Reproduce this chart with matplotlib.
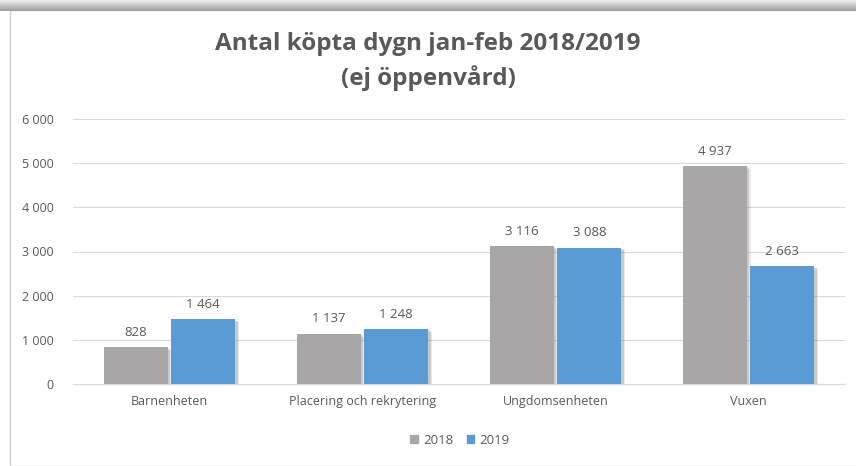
import matplotlib.pyplot as plt
import matplotlib.patheffects as pe
import numpy as np
from matplotlib.patches import Rectangle, Patch

categories = ['Barnenheten', 'Placering och rekrytering', 'Ungdomsenheten', 'Vuxen']
years = ['2018', '2019']
v2018 = [828, 1137, 3116, 4937]
v2019 = [1464, 1248, 3088, 2663]
yticks = [0, 1000, 2000, 3000, 4000, 5000, 6000]

gray = '#a8a6a6'
blue = '#5b9bd5'
txt = '#595959'

plt.rcParams['font.family'] = ['Open Sans', 'DejaVu Sans']

fig = plt.figure(figsize=(8.56, 4.66), dpi=100)
W, H = 856, 466

# chart frame and top shadow strip
fig.patches.append(Rectangle((10 / W, 0), 1, 1 - 10 / H, transform=fig.transFigure,
                             facecolor='none', edgecolor='#d0d0d0', lw=1, zorder=-1))
band = fig.add_axes([0, 1 - 11 / H, 1, 11 / H])
grad = np.linspace(0.93, 0.62, 50).reshape(-1, 1)
band.imshow(grad, aspect='auto', cmap='gray', vmin=0, vmax=1, extent=[0, 1, 0, 1])
band.axis('off')

ax = fig.add_axes([73 / W, (H - 384) / H, (845 - 73) / W, (384 - 119) / H])
ax.patch.set_alpha(0)
x = np.arange(len(categories))
w = 0.33
# soft-ish shadow: a few offset layers
shadow = [pe.SimplePatchShadow(offset=(3, -2), shadow_rgbFace='#707070', alpha=0.15),
          pe.SimplePatchShadow(offset=(2, -1), shadow_rgbFace='#707070', alpha=0.25),
          pe.Normal()]
b1 = ax.bar(x - w / 2 - 0.01, v2018, w, color=gray, zorder=3, path_effects=shadow)
b2 = ax.bar(x + w / 2 + 0.01, v2019, w, color=blue, zorder=3, path_effects=shadow)

fmt = lambda v: f'{v:,}'.replace(',', ' ')
for bars, vals in ((b1, v2018), (b2, v2019)):
    for b, v in zip(bars, vals):
        ax.annotate(fmt(v), (b.get_x() + b.get_width() / 2, v), xytext=(0, 6),
                    textcoords='offset points', ha='center', va='bottom',
                    fontsize=9.5, color=txt)

ax.set_xlim(-0.5, len(categories) - 0.5)
ax.set_ylim(0, 6000)
ax.set_yticks(yticks)
ax.set_yticklabels([fmt(t) for t in yticks])
ax.set_xticks(x)
ax.set_xticklabels(categories)
ax.tick_params(axis='both', length=0, labelsize=9, colors=txt)
ax.tick_params(axis='y', pad=14)
ax.tick_params(axis='x', pad=8)
ax.grid(axis='y', color='#d9d9d9', lw=0.8, zorder=0)
for s in ('top', 'right', 'left'):
    ax.spines[s].set_visible(False)
ax.spines['bottom'].set_color('#d9d9d9')

fig.text(0.5, 1 - 44 / H, 'Antal köpta dygn jan-feb 2018/2019', ha='center', va='center',
         fontsize=17.5, fontweight='bold', color=txt)
fig.text(0.5, 1 - 78 / H, '(ej öppenvård)', ha='center', va='center',
         fontsize=17.5, fontweight='bold', color=txt)

handles = [Patch(color=gray), Patch(color=blue)]
fig.legend(handles=handles, labels=years, loc='center', bbox_to_anchor=(460 / W, 1 - 440 / H),
           ncol=2, frameon=False, fontsize=9.5, handlelength=0.6, handleheight=0.6,
           handletextpad=0.4, columnspacing=1.0, labelcolor=txt)

fig.savefig('out.png', dpi=100)
